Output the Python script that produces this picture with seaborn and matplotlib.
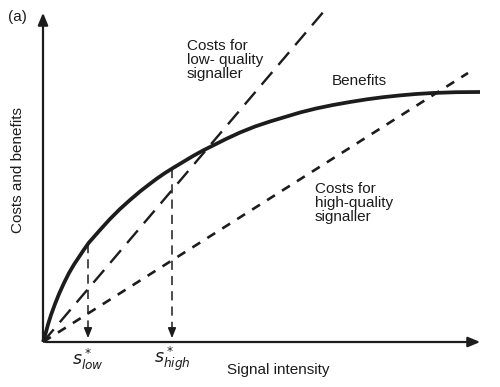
import matplotlib
matplotlib.use("Agg")
import matplotlib.pyplot as plt
import seaborn as sns

# ---- data (units: arbitrary signal intensity / cost-benefit) ----
benefit_x = [0, 1.5, 3, 5, 8, 12, 16, 21, 26, 31, 36, 41, 46, 57, 67, 77, 87, 97, 106, 114, 122, 130,
             140, 150, 160, 169, 183, 197, 212, 227, 242, 257, 273, 290, 307, 324, 340, 357, 373, 390, 413, 437]
benefit_y = [0, 5, 10, 17.5, 27, 38, 48, 59, 69, 77.5, 85, 92.5, 99.5, 112, 123, 133, 142, 150.5, 157.5, 163.5,
             169, 174, 180, 186, 191.5, 196, 203, 209.5, 215.5, 220.5, 225, 229.5, 233.5, 237, 240, 242.7,
             244.8, 246.6, 248, 249, 249.8, 250]
low_cost_x = [0, 282]
low_cost_y = [0, 332]
high_cost_x = [0, 425]
high_cost_y = [0, 269]
s_low = 45
s_low_top = 98
s_high = 129
s_high_top = 173
x_max = 440
y_max = 332

sns.set_theme(style="white")
plt.rcParams['font.family'] = ['Liberation Sans', 'DejaVu Sans']
ink = "#1c1c1c"

fig = plt.figure(figsize=(5.0, 3.87), dpi=100)
ax = fig.add_axes([43/500, 45/387, 440/500, 332/387])
ax.set_xlim(0, x_max)
ax.set_ylim(0, y_max)
for s in ax.spines.values():
    s.set_visible(False)
ax.set_xticks([])
ax.set_yticks([])
ax.patch.set_alpha(0)

# axes with arrows
ax.annotate("", xy=(x_max, 0), xytext=(0, 0),
            arrowprops=dict(arrowstyle="-|>,head_length=0.6,head_width=0.25", color=ink, lw=1.6),
            annotation_clip=False)
ax.annotate("", xy=(0, y_max), xytext=(0, 0),
            arrowprops=dict(arrowstyle="-|>,head_length=0.6,head_width=0.25", color=ink, lw=1.6),
            annotation_clip=False)

# benefits curve
sns.lineplot(x=benefit_x, y=benefit_y, ax=ax, color=ink, lw=2.7, sort=False, estimator=None)
ax.lines[-1].set_solid_capstyle("butt")
ax.lines[-1].set_solid_joinstyle("round")
ax.lines[-1].set_clip_on(False)

# cost lines
sns.lineplot(x=low_cost_x, y=low_cost_y, ax=ax, color=ink, lw=1.7, sort=False, estimator=None)
ax.lines[-1].set_dashes([7, 4])
ax.lines[-1].set_clip_on(False)
sns.lineplot(x=high_cost_x, y=high_cost_y, ax=ax, color=ink, lw=1.9, sort=False, estimator=None)
ax.lines[-1].set_dashes([3.5, 3.2])
ax.lines[-1].set_clip_on(False)

# vertical dashed guides with arrowheads
for xv, top in [(s_low, s_low_top), (s_high, s_high_top)]:
    sns.lineplot(x=[xv, xv], y=[top, 12], ax=ax, color=ink, lw=1.1, sort=False, estimator=None)
    ax.lines[-1].set_dashes([6, 4])
    ax.annotate("", xy=(xv, 1), xytext=(xv, 14),
                arrowprops=dict(arrowstyle="-|>,head_length=0.5,head_width=0.2", color=ink, lw=1.1))

fs = 11
ax.text(144, 303, "Costs for\nlow- quality\nsignaller", fontsize=fs, color=ink,
        ha="left", va="top", linespacing=1.02)
ax.text(289, 261, "Benefits", fontsize=fs, color=ink, ha="left", va="center")
ax.text(272, 160, "Costs for\nhigh-quality\nsignaller", fontsize=fs, color=ink,
        ha="left", va="top", linespacing=1.02)

ax.text(s_low, -17, r"$s^*_{low}$", fontsize=12.5, color=ink, ha="center", va="center")
ax.text(s_high, -17, r"$s^*_{high}$", fontsize=12.5, color=ink, ha="center", va="center")

fig.text(227/500, 1 - 370/387, "Signal intensity", fontsize=fs, color=ink, ha="left", va="center")
fig.text(18/500, 1 - 170/387, "Costs and benefits", fontsize=fs, color=ink,
         ha="center", va="center", rotation=90)
fig.text(8/500, 1 - 17/387, "(a)", fontsize=fs, color=ink, ha="left", va="center")

fig.savefig("out.png", dpi=100, facecolor="white")
